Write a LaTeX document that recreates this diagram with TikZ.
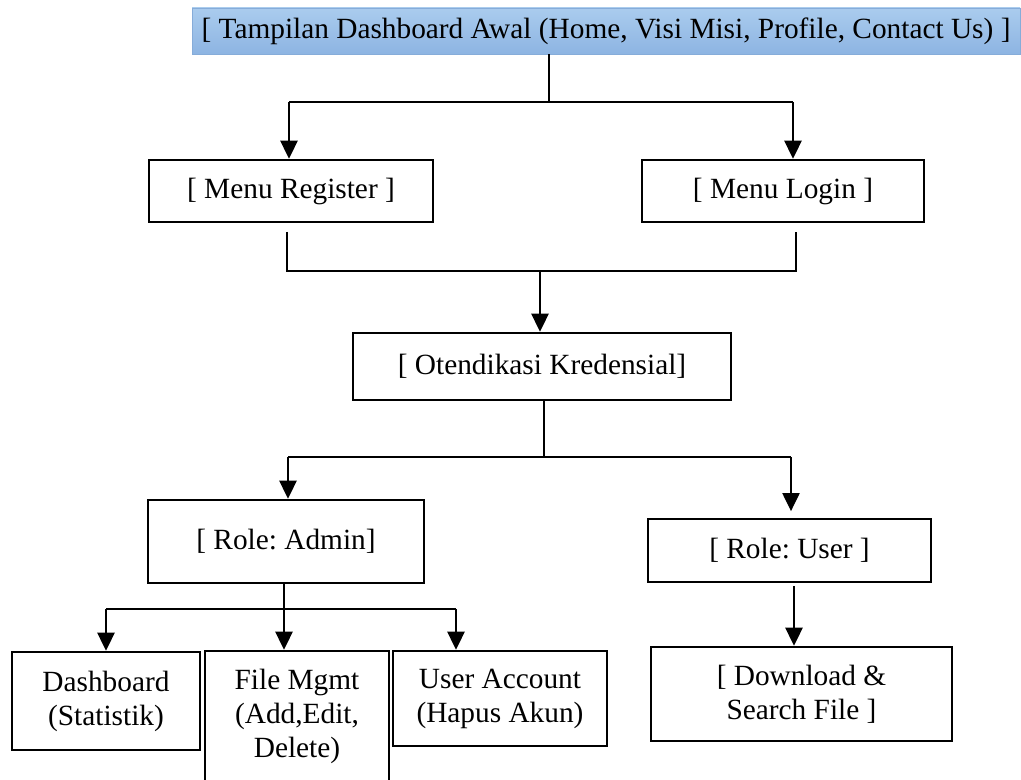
\documentclass[tikz,border=0pt]{standalone}
\usepackage{fontspec}
\setmainfont{Liberation Serif}
\usetikzlibrary{arrows.meta}
\definecolor{topfillA}{HTML}{AACCEE}
\definecolor{topfillB}{HTML}{8DB4E2}
\definecolor{topdraw}{HTML}{86ACD9}
\tikzset{
  box/.style={draw=black, line width=1.9pt, fill=white, inner sep=0pt, align=center,
    font=\fontsize{22}{25.5}\selectfont},
  txt/.style={inner sep=0pt, align=center, font=\fontsize{22}{25.5}\selectfont},
  conn/.style={draw=black, line width=0.9pt},
  arr/.style={conn, -{Triangle[width=13pt,length=13.5pt]}},
}
\frenchspacing
\begin{document}
\begin{tikzpicture}[x=0.75pt,y=-0.75pt]
\useasboundingbox (0,0) rectangle (1021,780);
% boxes
\node[txt, draw=topdraw, line width=0.6pt, top color=topfillA, bottom color=topfillB,
  minimum width=621pt, minimum height=34.5pt] (top) at (606,31)
  {[ Tampilan Dashboard Awal (Home, Visi Misi, Profile, Contact Us) ]};
\node[box, minimum width=213pt, minimum height=46.5pt] (reg) at (291,191) {[ Menu Register ]};
\node[box, minimum width=211.5pt, minimum height=46.5pt] (login) at (783,191) {[ Menu Login ]};
\node[box, minimum width=283.5pt, minimum height=50.25pt] (oten) at (542,366.5) {[ Otendikasi Kredensial]};
\node[box, minimum width=207pt, minimum height=62.25pt] (admin) at (286,541.5) {[ Role: Admin]};
\node[box, minimum width=212.25pt, minimum height=47.25pt] (user) at (789.5,550.5) {[ Role: User ]};
\node[box, minimum width=141pt, minimum height=73.5pt] (dash) at (106,701) {Dashboard\\(Statistik)};
\node[box, minimum width=138pt, minimum height=104.25pt] (file) at (297,720.5) {};
\node[txt] (filetxt) at (297,716) {File Mgmt\\(Add,Edit,\\Delete)};
\node[box, minimum width=160.5pt, minimum height=71.25pt] (uacc) at (500,698.5) {User Account\\(Hapus Akun)};
\node[box, minimum width=225.75pt, minimum height=70.5pt] (dl) at (801.5,694) {[ Download \&\\Search File ]};
% junction coordinates
\coordinate (t1) at (549,102);
\coordinate (t1L) at (289,102);
\coordinate (t1R) at (793,102);
\coordinate (r0) at (287,232);
\coordinate (r1) at (287,271);
\coordinate (l0) at (796,232);
\coordinate (l1) at (796,271);
\coordinate (m1) at (540,271);
\coordinate (o1) at (544,457);
\coordinate (o1L) at (288,457);
\coordinate (o1R) at (791,457);
\coordinate (a0) at (284,583);
\coordinate (a1L) at (106,609);
\coordinate (a1R) at (456,609);
\coordinate (u0) at (794,586);
% connectors
\draw[conn] (top.south -| t1) -- (t1);
\draw[conn] (t1L) -- (t1R);
\draw[arr] (t1L) -- (reg.north -| t1L);
\draw[arr] (t1R) -- (login.north -| t1R);
\draw[conn] (r0) -- (r1) -- (l1) -- (l0);
\draw[arr] (m1) -- (oten.north -| m1);
\draw[conn] (oten.south -| o1) -- (o1);
\draw[conn] (o1L) -- (o1R);
\draw[arr] (o1L) -- (admin.north -| o1L);
\draw[arr] (o1R) -- ([yshift=5pt]user.north -| o1R);
\draw[arr] (a0) -- (file.north -| a0);
\draw[conn] (a1L) -- (a1R);
\draw[arr] (a1L) -- (dash.north -| a1L);
\draw[arr] (a1R) -- (uacc.north -| a1R);
\draw[arr] (u0) -- (dl.north -| u0);
\end{tikzpicture}
\end{document}
